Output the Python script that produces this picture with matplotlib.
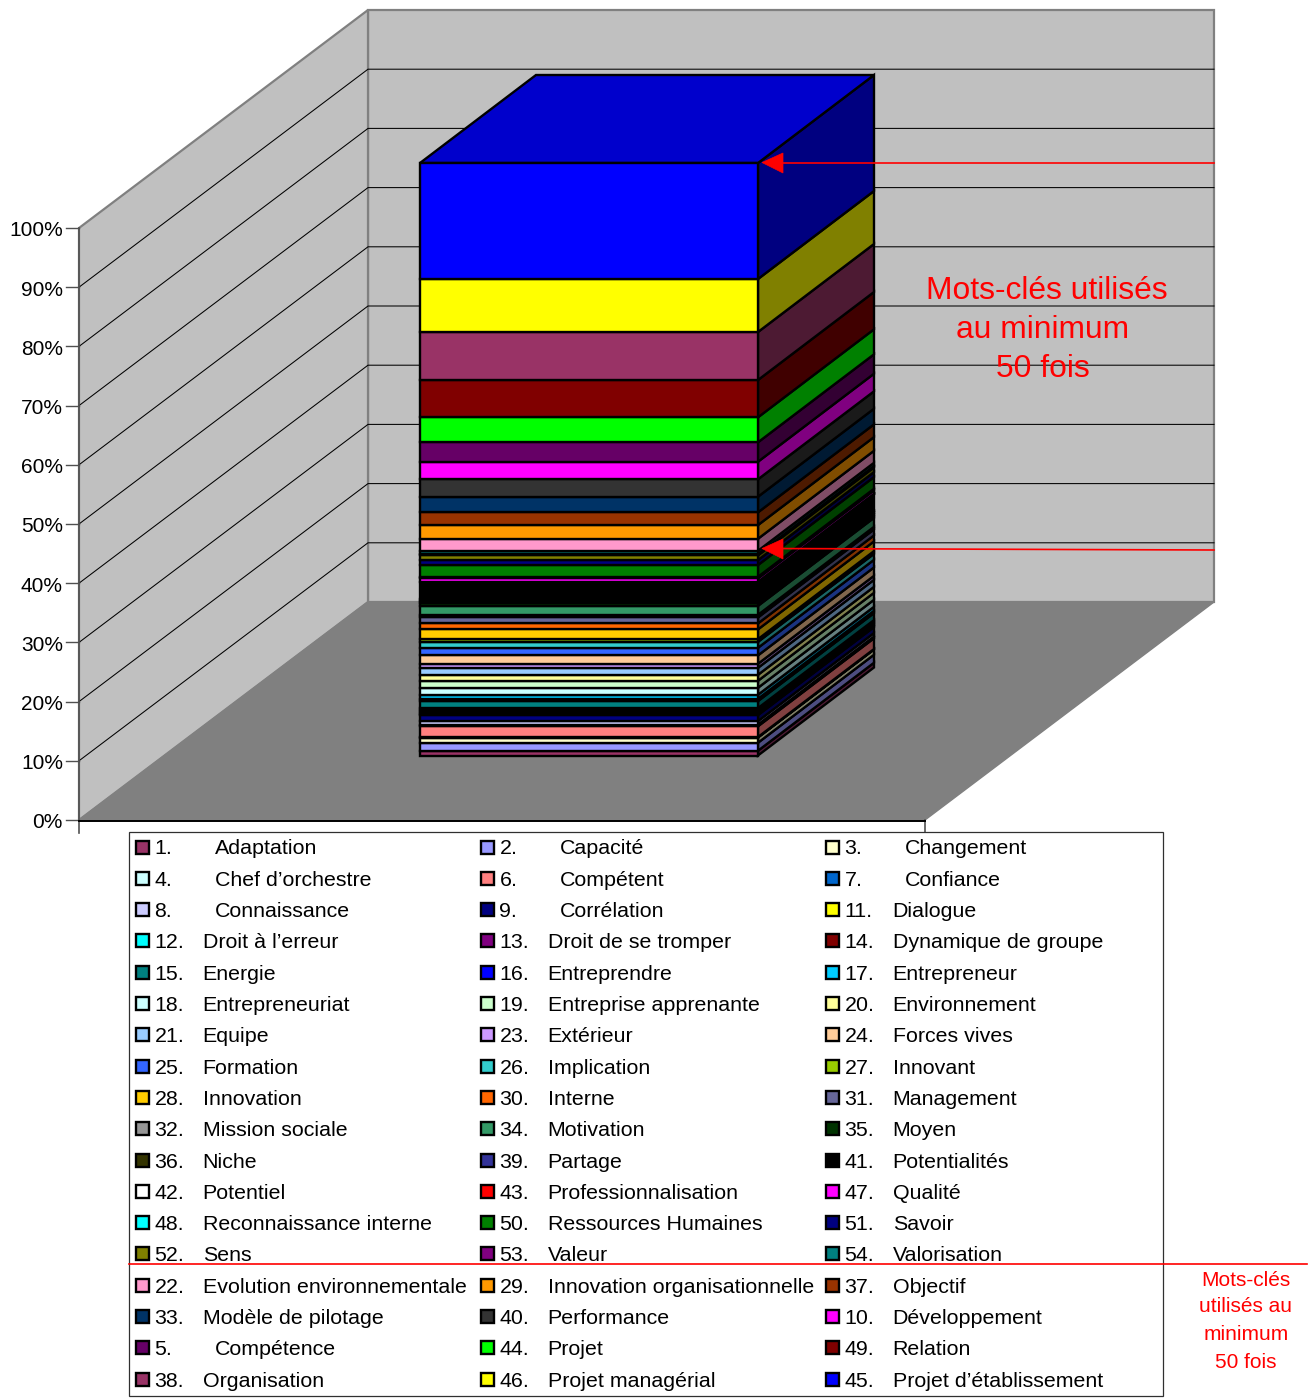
import matplotlib
matplotlib.use("Agg")
import matplotlib.pyplot as plt
from matplotlib.patches import Polygon, Rectangle
from matplotlib.transforms import Affine2D

plt.rcParams['font.family'] = ['Liberation Sans', 'DejaVu Sans']

numbers = [1,2,3,4,6,7,8,9,11,12,13,14,15,16,17,18,19,20,21,23,24,25,26,27,28,30,31,32,34,35,36,39,41,42,43,47,48,50,51,52,53,54,
           22,29,37,33,40,10,5,44,49,38,46,45]
names = ["Adaptation","Capacité","Changement","Chef d’orchestre","Compétent","Confiance","Connaissance","Corrélation",
         "Dialogue","Droit à l’erreur","Droit de se tromper","Dynamique de groupe","Energie","Entreprendre","Entrepreneur",
         "Entrepreneuriat","Entreprise apprenante","Environnement","Equipe","Extérieur","Forces vives","Formation","Implication",
         "Innovant","Innovation","Interne","Management","Mission sociale","Motivation","Moyen","Niche","Partage","Potentialités",
         "Potentiel","Professionnalisation","Qualité","Reconnaissance interne","Ressources Humaines","Savoir","Sens","Valeur",
         "Valorisation","Evolution environnementale","Innovation organisationnelle","Objectif","Modèle de pilotage","Performance",
         "Développement","Compétence","Projet","Relation","Organisation","Projet managérial","Projet d’établissement"]
values = [0.81,1.35,0.88,0.08,1.82,0.29,0.59,1.01,0.25,0.34,0.25,0.34,1.18,0.39,0.68,1.18,1.18,1.01,1.18,0.68,1.42,1.28,1.01,0.46,
          1.64,1.01,1.01,0.44,1.52,0.41,0.39,0.29,2.86,0.05,0.05,0.60,0.26,1.98,0.84,0.79,0.22,0.56,
          2.03,2.31,2.15,2.64,2.94,2.97,3.28,4.22,6.30,8.11,8.95,19.59]
colors = ["#993366","#9999FF","#FFFFCC","#CCFFFF","#FF8080","#0066CC","#CCCCFF","#000080","#FFFF00","#00FFFF","#800080","#800000",
          "#008080","#0000FF","#00CCFF","#CCFFFF","#CCFFCC","#FFFF99","#99CCFF","#CC99FF","#FFCC99","#3366FF","#33CCCC","#99CC00",
          "#FFCC00","#FF6600","#666699","#969696","#339966","#003300","#333300","#333399","#000000","#FFFFFF","#FF0000","#FF00FF",
          "#00FFFF","#008000","#000080","#808000","#800080","#008080","#FF99CC","#FF9900","#993300","#003366","#333333","#FF00FF",
          "#660066","#00FF00","#800000","#993366","#FFFF00","#0000FF"]
tick_labels = ["0%","10%","20%","30%","40%","50%","60%","70%","80%","90%","100%"]

W, H = 1315, 1399
fig = plt.figure(figsize=(W/100, H/100), dpi=100)
ax = fig.add_axes([0, 0, 1, 1], zorder=0)
ax.set_xlim(0, W); ax.set_ylim(H, 0); ax.axis("off")

def shade(c, f):
    r, g, b = matplotlib.colors.to_rgb(c)
    return (r*f, g*f, b*f)

# walls and floor
wc = "#808080"
axc = "#505050"
ax.add_patch(Polygon([(368,10),(1214,10),(1214,602),(368,602)], fc="#C0C0C0", ec=wc, lw=1.6, zorder=0))
ax.add_patch(Polygon([(79,228),(368,10),(368,602),(79,820)], fc="#C0C0C0", ec=wc, lw=1.6, zorder=0))
ax.add_patch(Polygon([(79,820),(368,602),(1214,602),(925,820)], fc="#808080", ec=wc, lw=1.0, zorder=0))
for i, lab in enumerate(tick_labels):
    dy = i*59.2
    if 0 < i < 10:
        ax.plot([79,368,1214], [820-dy,602-dy,602-dy], color="black", lw=0.75, zorder=1)
    ax.plot([66,79], [820-dy,820-dy], color=axc, lw=1.0, zorder=1)
    ax.text(63, 823-dy, lab, ha="right", va="center", fontsize=15.0, color="black")
ax.plot([79,79], [228,833], color=axc, lw=1.2, zorder=1)
ax.plot([925,925], [820,833], color=axc, lw=1.2, zorder=1)
ax.plot([79,925], [820.5,820.5], color="black", lw=1.4, zorder=1)

# stacked bar: front axes with a 0-100 scale, side faces via a shear of the same scale
total = sum(values)
pct = [v/total*100 for v in values]
ax_f = fig.add_axes([420/W, 1-755.5/H, 338/W, 592.5/H], zorder=1)
ax_f.set_xlim(0, 1); ax_f.set_ylim(0, 100); ax_f.axis("off")
side = Affine2D.from_values(116, -88, 0, -5.925, 758, 755.5) + ax.transData
edge_w = 1.7
bottom = 0.0
for p, c in zip(pct, colors):
    ax_f.bar(0.5, p, width=1, bottom=bottom, color=c, edgecolor="black", linewidth=edge_w, clip_on=False)
    ax.add_patch(Polygon([(0,bottom),(1,bottom),(1,bottom+p),(0,bottom+p)], closed=True,
                         fc=shade(c,0.5), ec="black", lw=edge_w, transform=side, zorder=2))
    bottom += p
top = Affine2D.from_values(338, 0, 116, -88, 420, 163) + ax.transData
ax.add_patch(Polygon([(0,0),(1,0),(1,1),(0,1)], closed=True, fc=shade(colors[-1],0.8), ec="black", lw=edge_w, transform=top, zorder=2))

# annotation
red = "#FF0000"
ax.plot([770,1214],[162.5,162.5], color=red, lw=1.2, zorder=5)
ax.plot([770,1214],[548.5,550], color=red, lw=1.2, zorder=5)
ax.add_patch(Polygon([(762,162.5),(783,153),(783,173)], fc=red, ec=red, lw=0.5, zorder=6))
ax.add_patch(Polygon([(762,548.5),(783,539),(783,559)], fc=red, ec=red, lw=0.5, zorder=6))
for t, x, y in [("Mots-clés utilisés",1047,291),("au minimum",1043,330),("50 fois",1043,369)]:
    ax.text(x, y, t, ha="center", va="center", fontsize=22.9, color=red, zorder=6)

# legend
ax.add_patch(Rectangle((129,832), 1034, 564, fc="white", ec="#303030", lw=0.9, zorder=3))
ncol = 3
for i, (n, name, c) in enumerate(zip(numbers, names, colors)):
    r, col = divmod(i, ncol)
    y = 847 + r*31.3
    dx = col*345
    ax.add_patch(Rectangle((136+dx, y-6.5), 13, 13, fc=c, ec="black", lw=1.7, zorder=4))
    ax.text(154.5+dx, y+2, f"{n}.", ha="left", va="center", fontsize=15.42, zorder=4)
    ax.text((202.7 if n >= 10 else 214.7)+dx, y+2, name, ha="left", va="center", fontsize=15.42, zorder=4)

ax.plot([129,1307],[1264,1264], color=red, lw=1.2, zorder=5)
for t, y in [("Mots-clés",1280),("utilisés au",1307),("minimum",1335),("50 fois",1362)]:
    ax.text(1246, y, t, ha="center", va="center", fontsize=15, color=red, zorder=5)

fig.savefig("out.png", dpi=100)
